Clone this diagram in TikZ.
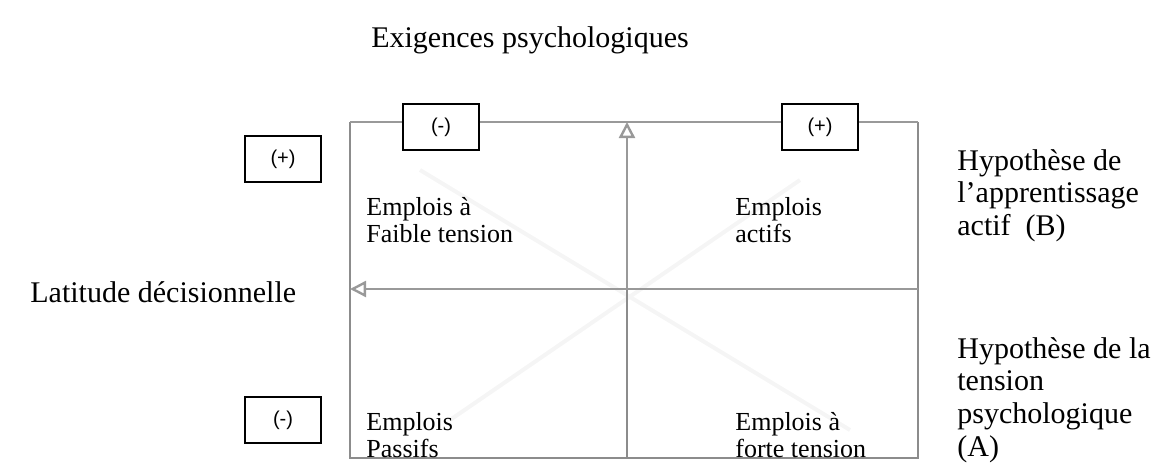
\documentclass[tikz,border=0pt]{standalone}
\usepackage{fontspec}
\setmainfont{Liberation Serif}
\newfontfamily\signfont{Liberation Sans}
\usetikzlibrary{arrows.meta,positioning}

\begin{document}
\begin{tikzpicture}[x=0.5pt,y=-0.5pt,>={Triangle[open,length=8pt,width=8pt]},
  lbl/.style={font=\fontsize{15}{16.3}\selectfont,inner sep=0pt},
  quad/.style={font=\fontsize{13}{13.4}\selectfont,align=left,anchor=north west,inner sep=0pt},
  sign/.style={draw,thick,fill=white,minimum width=38pt,minimum height=23pt,font=\signfont\fontsize{10}{12}\selectfont},
  cadre/.style={black!45,line width=0.8pt},
  axe/.style={black!40,line width=1.2pt}]
\useasboundingbox (0,0) rectangle (1174,466);
% coins du cadre
\coordinate (tl) at (350,122);
\coordinate (tr) at (918,122);
\coordinate (bl) at (350,458);
\coordinate (br) at (918,458);
\coordinate (c)  at (627,289);
\coordinate (ct) at (627,122);
\coordinate (cb) at (627,458);
\coordinate (cl) at (350,289);
\coordinate (cr) at (918,289);
% traces diagonales pales
\draw[black!4,line width=2pt] (420,170) -- (850,430);
\draw[black!4,line width=2pt] (450,420) -- (800,180);
% cadre et axes
\draw[cadre] (tl) -- (bl) -- (br) -- (tr);
\draw[cadre] (c) -- (cb);
\draw[axe] (tl) -- (tr);
\draw[axe] (cr) -- (c);
\draw[axe,->] (c) -- (ct);
\draw[axe,->] (c) -- (cl);
% boites
\node[sign] (neghaut)   at (441,127) {(-)};
\node[sign] (poshaut)   at (820,127) {(+)};
\node[sign] (posgauche) at (283,159) {(+)};
\node[sign] (neggauche) at (283,420) {(-)};
% textes
\node[lbl] (exig) at (530,40) {Exigences psychologiques};
\node[lbl,anchor=west] (latitude) at (30,292) {Latitude décisionnelle};
\node[quad] (faible)  at (366,197) {Emplois à\\Faible tension};
\node[quad] (actifs)  at (735,197) {Emplois\\actifs};
\node[quad] (passifs) at (366,412) {Emplois\\Passifs};
\node[quad] (forte)   at (735,412) {Emplois à\\forte tension};
\node[lbl,anchor=north west,align=left] (hypB) at (957,149) {Hypothèse de\\l’apprentissage\\actif~~(B)};
\node[lbl,anchor=north west,align=left] (hypA) at (957,337) {Hypothèse de la\\tension\\psychologique\\(A)};
\end{tikzpicture}
\end{document}
